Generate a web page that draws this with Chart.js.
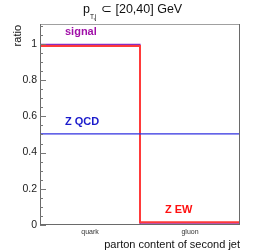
<!DOCTYPE html>
<html>
<head>
<meta charset="utf-8">
<script src="https://cdn.jsdelivr.net/npm/chart.js@4"></script>
<style>
  html, body { margin: 0; padding: 0; background: #fff; }
  #wrap { width: 266px; height: 250px; }
</style>
</head>
<body>
<div id="wrap"><canvas id="c" width="266" height="250"></canvas></div>
<script>
// bins
const categories = ["quark", "gluon"];
const binEdges = [0, 1, 2];
const binCenters = [0.5, 1.5];

// series (fraction per bin)
const signalVals = [0.997, 0.007];
const zqcdVals = [0.503, 0.503];
const zewVals = [0.988, 0.015];

const yLabels = [0, 0.2, 0.4, 0.6, 0.8, 1];
const yMinorStep = 0.05;

const font = "'Liberation Sans', Arial, sans-serif";

// histogram outline from bin edges + values
function steps(vals) {
  const pts = [];
  vals.forEach((v, i) => {
    pts.push({ x: binEdges[i], y: v });
    pts.push({ x: binEdges[i + 1], y: v });
  });
  return pts;
}

const frameAndText = {
  id: "frameAndText",
  afterDatasetsDraw(chart) {
    const { ctx, chartArea: a, scales } = chart;
    const y = scales.y;
    ctx.save();

    // frame
    ctx.lineWidth = 1;
    ctx.strokeStyle = "#a0a0a0";
    ctx.beginPath();
    ctx.moveTo(a.left, a.top + 0.5); ctx.lineTo(a.right, a.top + 0.5);
    ctx.stroke();
    ctx.strokeStyle = "#6a6a6a";
    ctx.beginPath();
    ctx.moveTo(a.right - 0.5, a.top); ctx.lineTo(a.right - 0.5, a.bottom);
    ctx.moveTo(a.left + 0.5, a.top); ctx.lineTo(a.left + 0.5, a.bottom);
    ctx.moveTo(a.left, a.bottom - 0.5); ctx.lineTo(a.right, a.bottom - 0.5);
    ctx.stroke();

    // y ticks inside the frame
    ctx.strokeStyle = "#777";
    ctx.beginPath();
    for (let v = 0; v <= y.max + 1e-9; v += yMinorStep) {
      const major = Math.abs(v * 5 - Math.round(v * 5)) < 1e-6;
      const py = Math.round(y.getPixelForValue(v)) + 0.5;
      ctx.moveTo(a.left, py);
      ctx.lineTo(a.left + (major ? 6 : 3), py);
    }
    ctx.stroke();

    // title
    ctx.fillStyle = "#111";
    ctx.textBaseline = "alphabetic";
    ctx.textAlign = "left";
    ctx.font = "12.5px " + font;
    ctx.fillText("p", 83, 13);
    ctx.font = "6.5px " + font;
    ctx.fillText("T,j", 90, 19);
    ctx.font = "12.5px " + font;
    ctx.fillText("\u2282 [20,40] GeV", 101, 13);

    // axis titles
    ctx.font = "11px " + font;
    ctx.textAlign = "right";
    ctx.fillText("parton content of second jet", 240, 248);
    ctx.save();
    ctx.translate(21, 25);
    ctx.rotate(-Math.PI / 2);
    ctx.textAlign = "right";
    ctx.fillText("ratio", 0, 0);
    ctx.restore();

    // legend labels
    ctx.font = "bold 11px " + font;
    ctx.textAlign = "left";
    ctx.fillStyle = "#a010a8";
    ctx.fillText("signal", 65, 35);
    ctx.fillStyle = "#1a1acc";
    ctx.fillText("Z QCD", 65, 125);
    ctx.fillStyle = "#ff1010";
    ctx.fillText("Z EW", 165, 213);

    ctx.restore();
  }
};

new Chart(document.getElementById("c"), {
  type: "line",
  data: {
    datasets: [
      { label: "Z QCD", data: steps(zqcdVals), borderColor: "#3030e0", borderWidth: 1.2 },
      { label: "Z EW", data: steps(zewVals), borderColor: "#ff3a3a", borderWidth: 2 },
      { label: "signal", data: steps(signalVals), borderColor: "#8a2cc0", borderWidth: 1.2 }
    ]
  },
  options: {
    responsive: false,
    animation: false,
    events: [],
    elements: { point: { radius: 0 }, line: { tension: 0, fill: false } },
    layout: { padding: { top: 24, right: 26, left: 0, bottom: 0 } },
    plugins: { legend: { display: false }, tooltip: { enabled: false }, title: { display: false } },
    scales: {
      x: {
        type: "linear",
        min: 0,
        max: 2,
        grid: { display: false, drawTicks: false, tickLength: 0 },
        border: { display: false },
        afterBuildTicks: s => { s.ticks = binCenters.map(v => ({ value: v })); },
        afterFit: s => { s.height = 25; },
        ticks: {
          autoSkip: false,
          maxRotation: 0,
          padding: 3,
          color: "#333",
          font: { family: font, size: 7 },
          callback: (v, i) => categories[i]
        }
      },
      y: {
        min: 0,
        max: 1.11,
        grid: { display: false, drawTicks: false, tickLength: 0 },
        border: { display: false },
        afterBuildTicks: s => { s.ticks = yLabels.map(v => ({ value: v })); },
        afterFit: s => { s.width = 40; },
        ticks: {
          autoSkip: false,
          padding: 3,
          color: "#222",
          font: { family: font, size: 10.5 },
          callback: v => String(Math.round(v * 10) / 10)
        }
      }
    }
  },
  plugins: [frameAndText]
});
</script>
</body>
</html>
